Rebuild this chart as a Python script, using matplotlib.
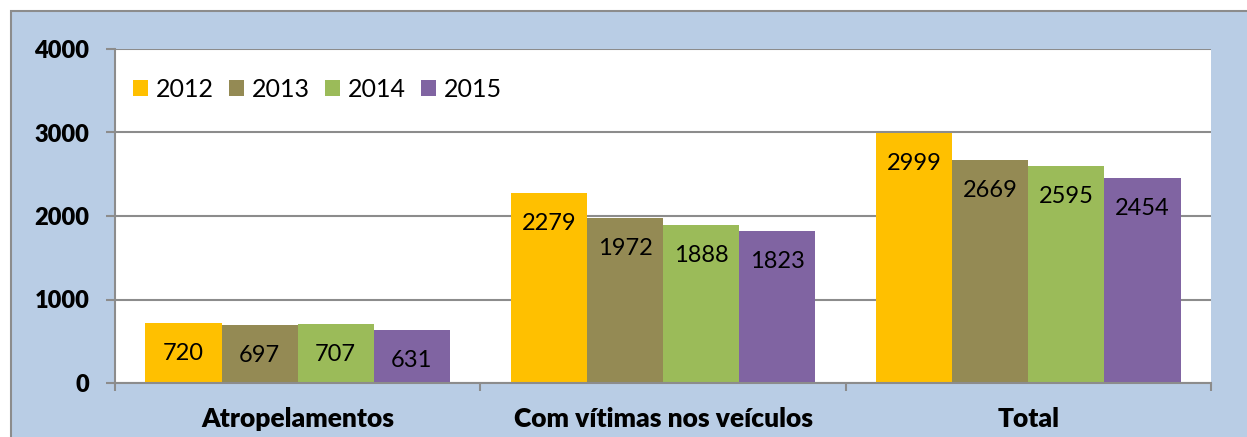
import numpy as np
import matplotlib.pyplot as plt
from matplotlib.patches import Rectangle

plt.rcParams['font.family'] = ['Lato', 'DejaVu Sans']

categories = ['Atropelamentos', 'Com vítimas nos veículos', 'Total']
years = ['2012', '2013', '2014', '2015']
v2012 = [720, 2279, 2999]
v2013 = [697, 1972, 2669]
v2014 = [707, 1888, 2595]
v2015 = [631, 1823, 2454]
series = [v2012, v2013, v2014, v2015]
colors = ['#FFC000', '#948A54', '#9BBB59', '#8064A2']

W, H = 1247, 437
fig = plt.figure(figsize=(W / 100, H / 100), dpi=100, facecolor='white')

# light blue chart area with grey frame
fig.patches.append(Rectangle((11 / W, -0.1), 1.2, (H - 11) / H + 0.1,
                             transform=fig.transFigure, facecolor='#B9CDE5',
                             edgecolor='#8C8C8C', lw=1.5, zorder=-10))

ax = fig.add_axes([115 / W, (H - 383) / H, (1211 - 115) / W, (383 - 49) / H])
ax.set_facecolor('white')

x = np.arange(len(categories))
w = 1 / 4.8
for i, (vals, c, yr) in enumerate(zip(series, colors, years)):
    pos = x + (i - 1.5) * w
    ax.bar(pos, vals, width=w, color=c, label=yr, zorder=2)
    for px, v in zip(pos, vals):
        ax.annotate(str(v), (px, v), xytext=(0, -22), textcoords='offset points',
                    ha='center', va='center', fontsize=17, color='black', zorder=3)

ax.set_xlim(-0.5, 2.5)
ax.set_ylim(0, 4000)
ax.set_yticks([0, 1000, 2000, 3000, 4000])
ax.set_yticklabels(['0', '1000', '2000', '3000', '4000'], fontsize=17, fontweight='heavy')
ax.tick_params(axis='y', length=6.5, width=1.5, color='#8C8C8C', pad=12)
ax.yaxis.grid(True, color='#8C8C8C', lw=1.5, zorder=1)
ax.set_axisbelow(True)

ax.set_xticks([-0.5, 0.5, 1.5, 2.5])
ax.set_xticklabels([])
ax.tick_params(axis='x', which='major', length=6, width=1.5, color='#8C8C8C')
ax.set_xticks(x, minor=True)
ax.set_xticklabels(categories, minor=True, fontsize=19, fontweight='heavy')
ax.tick_params(axis='x', which='minor', length=0, pad=17)

for s in ['top', 'right']:
    ax.spines[s].set_visible(False)
for s in ['left', 'bottom']:
    ax.spines[s].set_color('#8C8C8C')
    ax.spines[s].set_linewidth(1.5)

ax.legend(loc='upper left', bbox_to_anchor=(0.0, 0.965), ncol=4, frameon=False,
          fontsize=18, handlelength=0.6, handleheight=0.6, handletextpad=0.32,
          columnspacing=0.6, borderaxespad=0.3)

fig.savefig('out.png', dpi=100, facecolor='white')
